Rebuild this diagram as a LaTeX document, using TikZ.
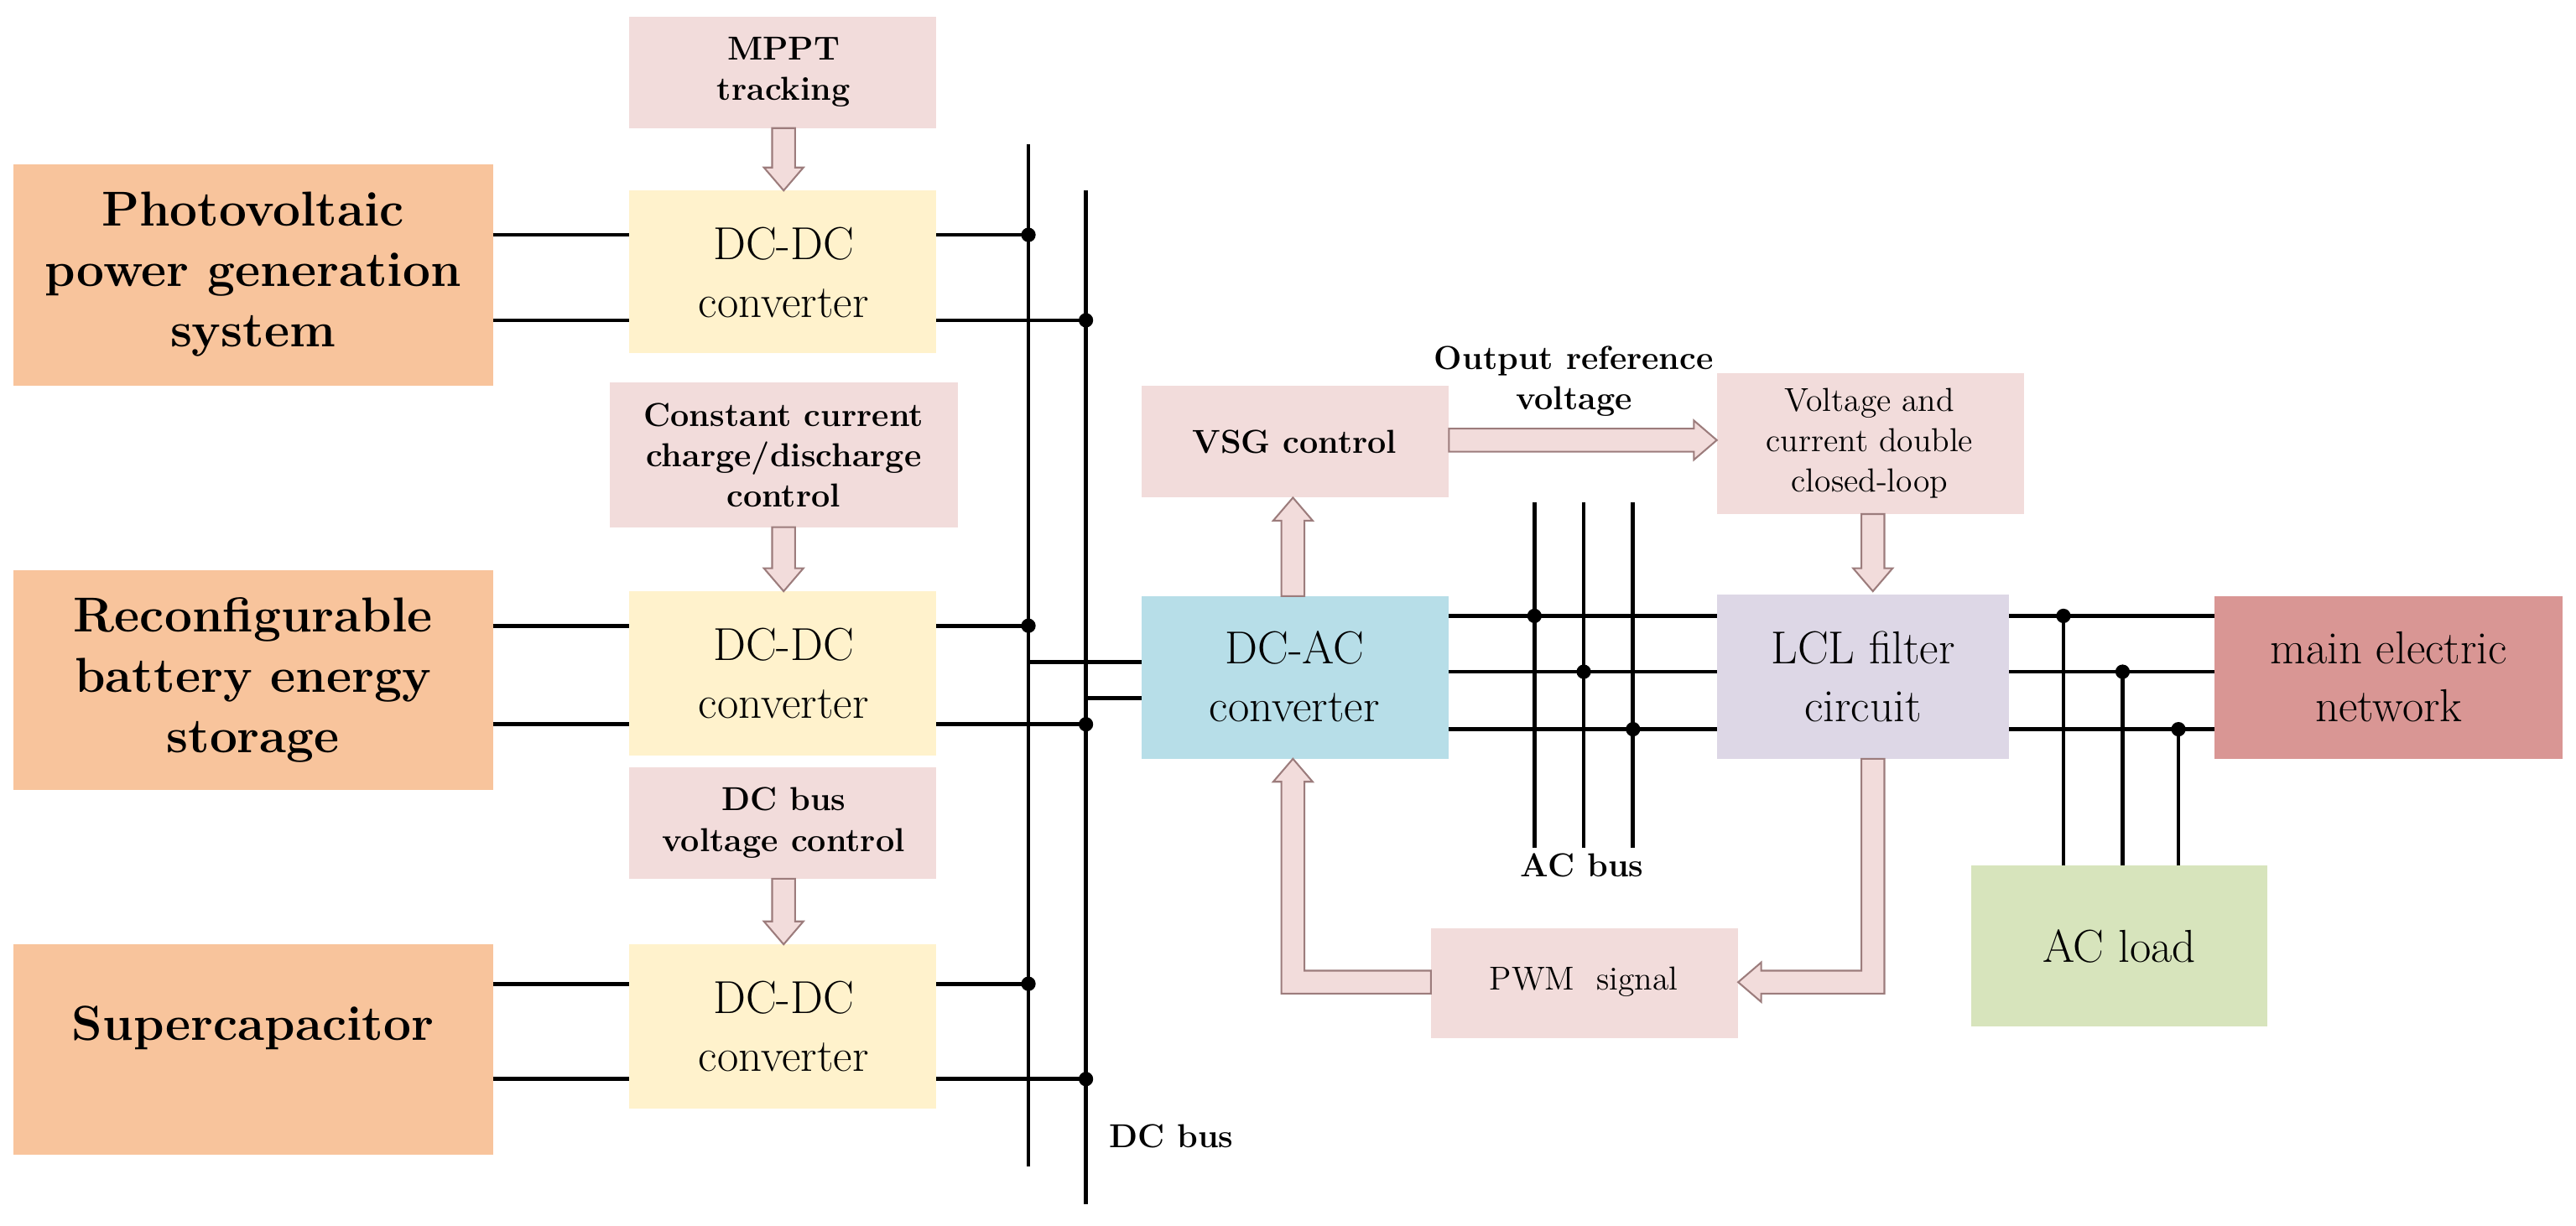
\documentclass[tikz,border=0pt]{standalone}
\usetikzlibrary{calc}
\definecolor{cor}{HTML}{F8C49C}
\definecolor{cye}{HTML}{FFF2CC}
\definecolor{cpk}{HTML}{F2DCDB}
\definecolor{cbl}{HTML}{B7DEE8}
\definecolor{clv}{HTML}{DDD7E6}
\definecolor{crd}{HTML}{D99694}
\definecolor{cgr}{HTML}{D7E4BC}
\definecolor{carw}{HTML}{9C7C7C}
\begin{document}
\begin{tikzpicture}[x=0.02cm,y=-0.02cm,
 box/.style={inner sep=0pt,align=center},
 big/.style={font=\fontsize{17}{21}\selectfont\bfseries},
 mid/.style={font=\fontsize{16}{20}\selectfont},
 sml/.style={font=\fontsize{11.5}{14}\selectfont\bfseries},
 smn/.style={font=\fontsize{11.5}{14}\selectfont},
 wire/.style={line width=1.4pt},
 dot/.style={circle,fill,inner sep=0pt,minimum size=5pt},
 harw/.style={fill=cpk,draw=carw,line width=0.6pt}]
\useasboundingbox (0,0) rectangle (1568,746);
\newcommand\mkbox[7]{\fill[#6] (#2,#3) rectangle (#4,#5); \node[box,#7] (#1) at ({(#2+#4)/2},{(#3+#5)/2}) {};}
\newcommand\dnarrow[3]{\draw[harw] (#1-7,#2)--(#1+7,#2)--(#1+7,#3-14)--(#1+12,#3-14)--(#1,#3)--(#1-12,#3-14)--(#1-7,#3-14)--cycle;}
% boxes
\fill[cor] (8,100) rectangle (300,235); \node[box,big] (pv) at (154,167) {Photovoltaic\\power generation\\system};
\fill[cor] (8,347) rectangle (300,481); \node[box,big] (bat) at (154,414) {Reconfigurable\\battery energy\\storage};
\fill[cor] (8,575) rectangle (300,703); \node[box,big] (sc) at (154,626) {Supercapacitor};
\fill[cpk] (383,10) rectangle (570,78); \node[box,sml] (mppt) at (477,44) {MPPT\\tracking};
\fill[cye] (383,116) rectangle (570,215); \node[box,mid] (dc1) at (477,166) {DC-DC\\converter};
\fill[cpk] (371,233) rectangle (583,321); \node[box,sml] (cc) at (477,277) {Constant current\\charge/discharge\\control};
\fill[cye] (383,360) rectangle (570,460); \node[box,mid] (dc2) at (477,410) {DC-DC\\converter};
\fill[cpk] (383,467) rectangle (570,535); \node[box,sml] (bv) at (477,501) {DC bus\\voltage control};
\fill[cye] (383,575) rectangle (570,675); \node[box,mid] (dc3) at (477,625) {DC-DC\\converter};
\fill[cbl] (695,363) rectangle (882,462); \node[box,mid] (dcac) at (788,412) {DC-AC\\converter};
\fill[cpk] (695,235) rectangle (882,303); \node[box,sml] (vsg) at (788,269) {VSG control};
\fill[cpk] (1045,227) rectangle (1232,313); \node[box,smn] (vc) at (1138,270) {Voltage and\\current double\\closed-loop};
\fill[clv] (1045,362) rectangle (1223,462); \node[box,mid] (lcl) at (1134,412) {LCL filter\\circuit};
\fill[crd] (1348,363) rectangle (1560,462); \node[box,mid] (grid) at (1454,412) {main electric\\network};
\fill[cgr] (1200,527) rectangle (1380,625); \node[box,mid] (load) at (1290,576) {AC load};
\fill[cpk] (871,565) rectangle (1058,632); \node[box,smn] (pwm) at (964,598) {PWM~ signal};
\node[box,sml] (orv) at (958,232) {Output reference\\voltage};
\node[box,sml] (dcl) at (713,692) {DC bus};
\node[box,sml] (acl) at (963,527) {AC bus};
% DC bus
\coordinate (b1t) at (626,88); \coordinate (b1b) at (626,710);
\coordinate (b2t) at (661,116); \coordinate (b2b) at (661,733);
\draw[wire] (b1t)--(b1b); \draw[wire] (b2t)--(b2b);
\foreach \y/\ya/\yb/\s in {143/195/0/pv,381/441/0/bat,599/657/0/sc}{
 \draw[wire] (300,\y)--(383,\y); \draw[wire] (300,\ya)--(383,\ya);
 \draw[wire] (570,\y)--(626,\y); \draw[wire] (570,\ya)--(661,\ya);
 \node[dot] at (626,\y) {}; \node[dot] at (661,\ya) {};}
\draw[wire] (626,403)--(695,403); \draw[wire] (661,425)--(695,425);
% AC side
\foreach \y/\x/\xx in {375/934/1256,409/964/1292,444/994/1326}{
 \draw[wire] (882,\y)--(1045,\y); \draw[wire] (1223,\y)--(1348,\y);
 \draw[wire] (\x,306)--(\x,516); \node[dot] at (\x,\y) {};
 \draw[wire] (\xx,\y)--(\xx,527); \node[dot] at (\xx,\y) {};}
% hollow arrows
\dnarrow{477}{78}{116}
\dnarrow{477}{321}{360}
\dnarrow{477}{535}{575}
\dnarrow{1140}{313}{360}
\draw[harw] (780,363)--(794,363)--(794,317)--(799,317)--(787,303)--(775,317)--(780,317)--cycle;
\draw[harw] (882,261)--(1031,261)--(1031,256)--(1045,268)--(1031,280)--(1031,275)--(882,275)--cycle;
\draw[harw] (1133,462)--(1147,462)--(1147,605)--(1072,605)--(1072,610)--(1058,598)--(1072,586)--(1072,591)--(1133,591)--cycle;
\draw[harw] (871,591)--(794,591)--(794,476)--(799,476)--(787,462)--(775,476)--(780,476)--(780,605)--(871,605)--cycle;
\end{tikzpicture}
\end{document}
